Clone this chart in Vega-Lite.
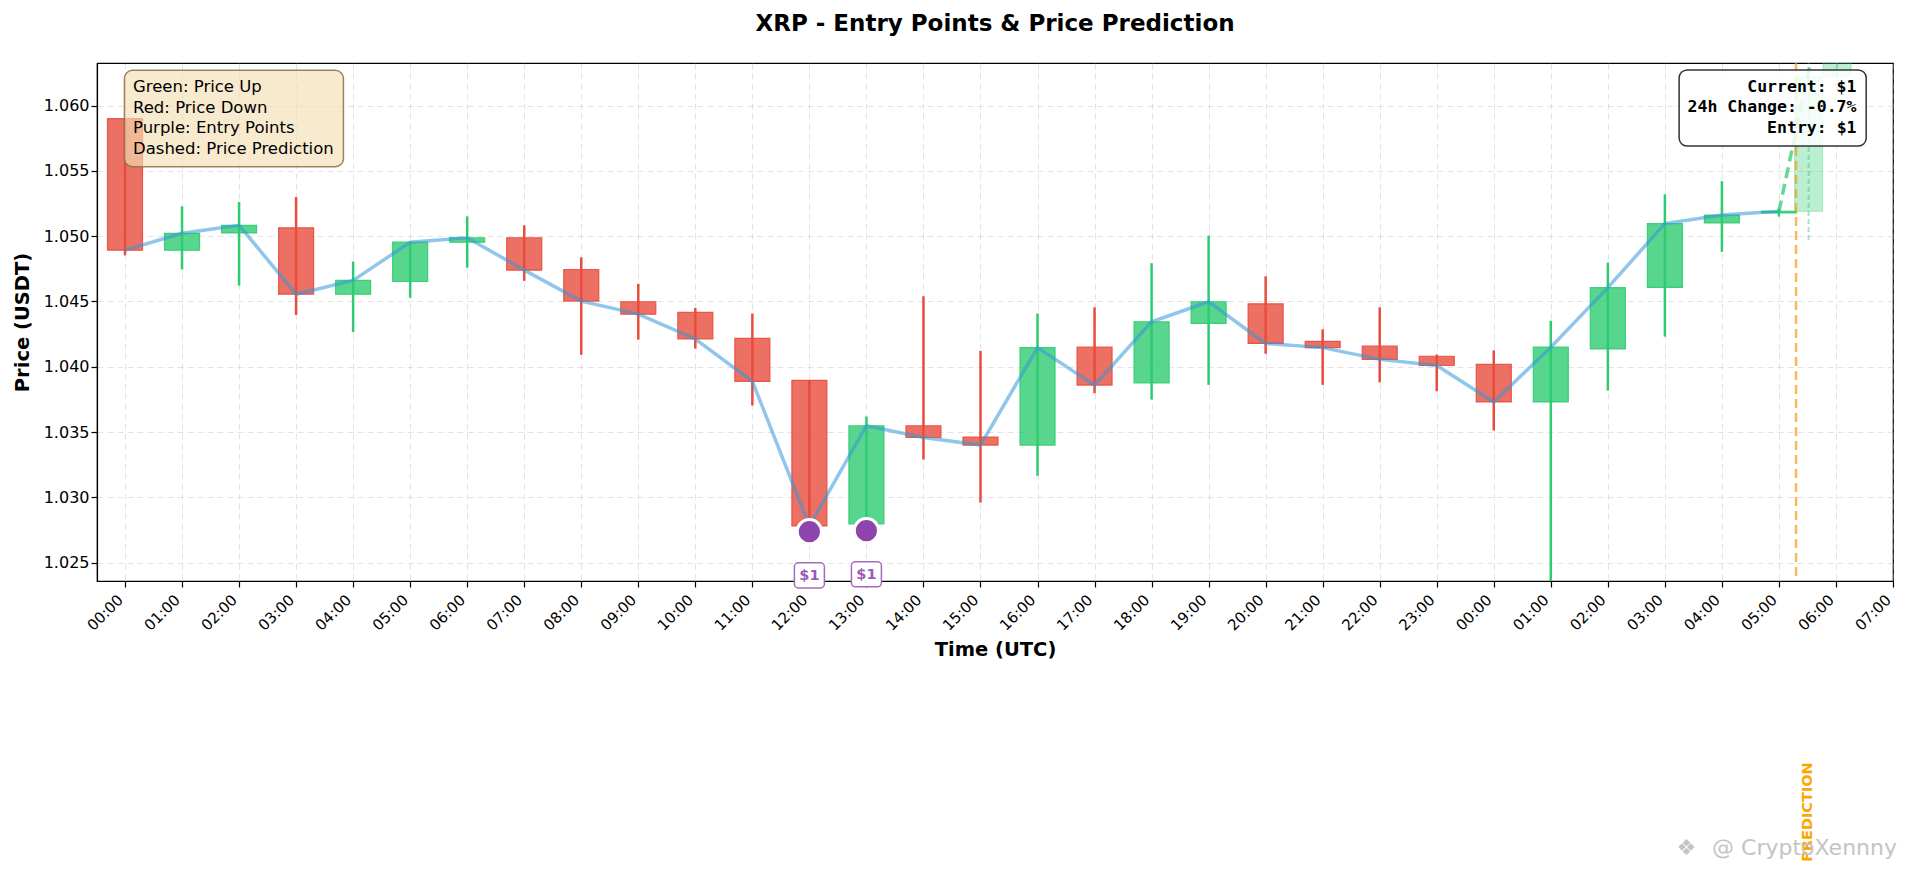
{
  "$schema": "https://vega.github.io/schema/vega-lite/v6.json",
  "width": 1796,
  "height": 518,
  "autosize": {"type": "none"},
  "padding": {"left": 97, "top": 63, "right": 12, "bottom": 292},
  "background": "white",
  "title": {
    "text": "XRP - Entry Points & Price Prediction",
    "fontSize": 23,
    "fontWeight": "bold",
    "color": "black",
    "anchor": "middle",
    "frame": "group",
    "baseline": "bottom",
    "offset": 2.5
  },
  "datasets": {
    "candles": [
      {"h": 0, "open": 1.05900, "high": 1.05900, "low": 1.04853, "close": 1.04893, "dir": "down"},
      {"h": 1, "open": 1.04893, "high": 1.05228, "low": 1.04745, "close": 1.05022, "dir": "up"},
      {"h": 2, "open": 1.05025, "high": 1.05262, "low": 1.04622, "close": 1.05083, "dir": "up"},
      {"h": 3, "open": 1.05064, "high": 1.05299, "low": 1.04397, "close": 1.04556, "dir": "down"},
      {"h": 4, "open": 1.04556, "high": 1.04806, "low": 1.04266, "close": 1.04661, "dir": "up"},
      {"h": 5, "open": 1.04653, "high": 1.04960, "low": 1.04529, "close": 1.04954, "dir": "up"},
      {"h": 6, "open": 1.04954, "high": 1.05151, "low": 1.04759, "close": 1.04988, "dir": "up"},
      {"h": 7, "open": 1.04988, "high": 1.05083, "low": 1.04658, "close": 1.04740, "dir": "down"},
      {"h": 8, "open": 1.04745, "high": 1.04838, "low": 1.04092, "close": 1.04503, "dir": "down"},
      {"h": 9, "open": 1.04498, "high": 1.04635, "low": 1.04208, "close": 1.04403, "dir": "down"},
      {"h": 10, "open": 1.04416, "high": 1.04450, "low": 1.04139, "close": 1.04213, "dir": "down"},
      {"h": 11, "open": 1.04218, "high": 1.04408, "low": 1.03704, "close": 1.03889, "dir": "down"},
      {"h": 12, "open": 1.03897, "high": 1.03897, "low": 1.02760, "close": 1.02782, "dir": "down"},
      {"h": 13, "open": 1.02797, "high": 1.03620, "low": 1.02760, "close": 1.03549, "dir": "up"},
      {"h": 14, "open": 1.03549, "high": 1.04540, "low": 1.03290, "close": 1.03459, "dir": "down"},
      {"h": 15, "open": 1.03463, "high": 1.04122, "low": 1.02961, "close": 1.03401, "dir": "down"},
      {"h": 16, "open": 1.03401, "high": 1.04408, "low": 1.03166, "close": 1.04147, "dir": "up"},
      {"h": 17, "open": 1.04150, "high": 1.04455, "low": 1.03797, "close": 1.03860, "dir": "down"},
      {"h": 18, "open": 1.03876, "high": 1.04793, "low": 1.03749, "close": 1.04345, "dir": "up"},
      {"h": 19, "open": 1.04332, "high": 1.05004, "low": 1.03862, "close": 1.04498, "dir": "up"},
      {"h": 20, "open": 1.04482, "high": 1.04693, "low": 1.04100, "close": 1.04179, "dir": "down"},
      {"h": 21, "open": 1.04195, "high": 1.04287, "low": 1.03862, "close": 1.04147, "dir": "down"},
      {"h": 22, "open": 1.04158, "high": 1.04455, "low": 1.03881, "close": 1.04057, "dir": "down"},
      {"h": 23, "open": 1.04081, "high": 1.04094, "low": 1.03813, "close": 1.04010, "dir": "down"},
      {"h": 24, "open": 1.04018, "high": 1.04126, "low": 1.03512, "close": 1.03731, "dir": "down"},
      {"h": 25, "open": 1.03731, "high": 1.04353, "low": 1.02200, "close": 1.04150, "dir": "up"},
      {"h": 26, "open": 1.04137, "high": 1.04798, "low": 1.03818, "close": 1.04606, "dir": "up"},
      {"h": 27, "open": 1.04608, "high": 1.05320, "low": 1.04231, "close": 1.05096, "dir": "up"},
      {"h": 28, "open": 1.05101, "high": 1.05421, "low": 1.04880, "close": 1.05162, "dir": "up"},
      {"h": 29, "open": 1.05178, "high": 1.05210, "low": 1.05150, "close": 1.05190, "dir": "up"}
    ],
    "prediction": [
      {"h": 29.52, "open": 1.05190, "close": 1.06220, "low": 1.04970, "high": 1.06400},
      {"h": 30.02, "open": 1.06220, "close": 1.07200, "low": 1.06100, "high": 1.07500}
    ],
    "predline": [
      {"h": 29, "price": 1.05190},
      {"h": 29.5, "price": 1.06220},
      {"h": 30, "price": 1.07200}
    ],
    "entries": [
      {"h": 12, "price": 1.02738, "label": "$1", "boxTop": 1.02500, "boxBottom": 1.02308, "labelY": 1.02402},
      {"h": 13, "price": 1.02746, "label": "$1", "boxTop": 1.02508, "boxBottom": 1.02316, "labelY": 1.02410}
    ],
    "notes": [
      {"name": "legend", "h": -0.01, "h2": 3.83, "top": 1.06269, "bottom": 1.05532, "tx": 0.14, "ty": 1.06142},
      {"name": "info", "h": 27.25, "h2": 30.53, "top": 1.06272, "bottom": 1.05690, "tx": 30.36, "ty": 1.06142}
    ]
  },
  "encoding": {
    "x": {
      "field": "h",
      "type": "quantitative",
      "title": "Time (UTC)",
      "scale": {"domain": [-0.491, 31.0], "nice": false, "zero": false, "padding": 0},
      "axis": {
        "values": [0, 1, 2, 3, 4, 5, 6, 7, 8, 9, 10, 11, 12, 13, 14, 15, 16, 17, 18, 19, 20, 21, 22, 23, 24, 25, 26, 27, 28, 29, 30, 31],
        "labelExpr": "(datum.value % 24 < 10 ? '0' : '') + (datum.value % 24) + ':00'",
        "labelAngle": -45,
        "labelAlign": "right",
        "labelBaseline": "middle",
        "labelFontSize": 15,
        "labelPadding": 10,
        "labelOffset": -5,
        "labelOverlap": false,
        "labelBound": false,
        "labelFlush": false,
        "titlePadding": 7
      }
    }
  },
  "layer": [
    {
      "data": {"name": "candles"},
      "mark": {"type": "rule", "strokeWidth": 2.5, "clip": true},
      "encoding": {
        "y": {
          "field": "low",
          "type": "quantitative",
          "title": "Price (USDT)",
          "scale": {"domain": [1.023608, 1.063253], "nice": false, "zero": false, "padding": 0},
          "axis": {
            "values": [1.025, 1.03, 1.035, 1.04, 1.045, 1.05, 1.055, 1.06],
            "format": ".3f",
            "labelFontSize": 16,
            "titlePadding": 11
          }
        },
        "y2": {"field": "high"},
        "color": {
          "field": "dir",
          "type": "nominal",
          "scale": {"domain": ["down", "up"], "range": ["#e74c3c", "#2ecc71"]},
          "legend": null
        }
      }
    },
    {
      "data": {"name": "candles"},
      "mark": {"type": "bar", "size": 35, "fillOpacity": 0.8, "strokeOpacity": 0.9, "strokeWidth": 1.2},
      "encoding": {
        "y": {"field": "open", "type": "quantitative", "title": "Price (USDT)"},
        "y2": {"field": "close"},
        "fill": {
          "field": "dir",
          "type": "nominal",
          "scale": {"domain": ["down", "up"], "range": ["#e74c3c", "#2ecc71"]},
          "legend": null
        },
        "stroke": {
          "field": "dir",
          "type": "nominal",
          "scale": {"domain": ["down", "up"], "range": ["#e74c3c", "#2ecc71"]},
          "legend": null
        }
      }
    },
    {
      "data": {"name": "candles"},
      "mark": {"type": "line", "color": "#3498db", "opacity": 0.55, "strokeWidth": 3.5},
      "encoding": {
        "y": {"field": "close", "type": "quantitative", "title": "Price (USDT)"}
      }
    },
    {
      "data": {"name": "prediction"},
      "mark": {"type": "bar", "size": 28, "color": "#2ecc71", "fillOpacity": 0.32, "strokeOpacity": 0.35, "strokeWidth": 1, "stroke": "#2ecc71", "clip": true},
      "encoding": {
        "y": {"field": "open", "type": "quantitative", "title": "Price (USDT)"},
        "y2": {"field": "close"}
      }
    },
    {
      "data": {"name": "prediction"},
      "mark": {"type": "rule", "color": "#2ecc71", "opacity": 0.45, "strokeWidth": 2, "strokeDash": [5, 3], "clip": true},
      "encoding": {
        "y": {"field": "low", "type": "quantitative", "title": "Price (USDT)"},
        "y2": {"field": "high"}
      }
    },
    {
      "data": {"name": "predline"},
      "mark": {"type": "line", "color": "#2ecc71", "opacity": 0.75, "strokeWidth": 3.5, "strokeDash": [11, 6], "clip": true},
      "encoding": {
        "y": {"field": "price", "type": "quantitative", "title": "Price (USDT)"}
      }
    },
    {
      "data": {"values": [{"h": 29.3}]},
      "mark": {"type": "rule", "color": "#f39c12", "opacity": 0.7, "strokeWidth": 2.5, "strokeDash": [9, 5]},
      "encoding": {}
    },
    {
      "data": {"values": [{"h": 29.58, "price": 1.005928, "label": "PREDICTION"}]},
      "mark": {"type": "text", "angle": 270, "align": "center", "baseline": "alphabetic", "fontSize": 14.5, "fontWeight": "bold", "color": "#ffa500"},
      "encoding": {
        "y": {"field": "price", "type": "quantitative", "title": "Price (USDT)"},
        "text": {"field": "label"}
      }
    },
    {
      "data": {"name": "entries"},
      "mark": {"type": "point", "filled": true, "size": 585, "color": "#8e44ad", "opacity": 1, "stroke": "white", "strokeWidth": 3},
      "encoding": {
        "y": {"field": "price", "type": "quantitative", "title": "Price (USDT)"}
      }
    },
    {
      "data": {"name": "entries"},
      "mark": {"type": "bar", "size": 30, "fill": "white", "stroke": "#a569bd", "strokeWidth": 1.5, "cornerRadius": 4},
      "encoding": {
        "y": {"field": "boxTop", "type": "quantitative", "title": "Price (USDT)"},
        "y2": {"field": "boxBottom"}
      }
    },
    {
      "data": {"name": "entries"},
      "mark": {"type": "text", "fontSize": 14.5, "fontWeight": "bold", "color": "#9b59b6", "baseline": "middle", "align": "center"},
      "encoding": {
        "y": {"field": "labelY", "type": "quantitative", "title": "Price (USDT)"},
        "text": {"field": "label"}
      }
    },
    {
      "data": {"name": "notes"},
      "transform": [{"filter": "datum.name == 'legend'"}],
      "mark": {"type": "rect", "fill": "#f5deb3", "fillOpacity": 0.65, "stroke": "#8b6f47", "strokeOpacity": 0.85, "strokeWidth": 1.5, "cornerRadius": 8},
      "encoding": {
        "x2": {"field": "h2"},
        "y": {"field": "top", "type": "quantitative", "title": "Price (USDT)"},
        "y2": {"field": "bottom"}
      }
    },
    {
      "data": {"name": "notes"},
      "transform": [{"filter": "datum.name == 'legend'"}],
      "mark": {"type": "text", "align": "left", "baseline": "middle", "fontSize": 16.5, "lineHeight": 20.6, "color": "black"},
      "encoding": {
        "x": {"field": "tx", "type": "quantitative"},
        "y": {"field": "ty", "type": "quantitative", "title": "Price (USDT)"},
        "text": {"value": ["Green: Price Up", "Red: Price Down", "Purple: Entry Points", "Dashed: Price Prediction"]}
      }
    },
    {
      "data": {"name": "notes"},
      "transform": [{"filter": "datum.name == 'info'"}],
      "mark": {"type": "rect", "fill": "white", "fillOpacity": 0.85, "stroke": "#333333", "strokeWidth": 1.5, "cornerRadius": 8},
      "encoding": {
        "x2": {"field": "h2"},
        "y": {"field": "top", "type": "quantitative", "title": "Price (USDT)"},
        "y2": {"field": "bottom"}
      }
    },
    {
      "data": {"name": "notes"},
      "transform": [{"filter": "datum.name == 'info'"}],
      "mark": {"type": "text", "align": "right", "baseline": "middle", "font": "DejaVu Sans Mono", "fontWeight": "bold", "fontSize": 16.5, "lineHeight": 20.5, "color": "black"},
      "encoding": {
        "x": {"field": "tx", "type": "quantitative"},
        "y": {"field": "ty", "type": "quantitative", "title": "Price (USDT)"},
        "text": {"value": ["Current: $1", "24h Change: -0.7%", "Entry: $1"]}
      }
    },
    {
      "data": {"values": [{"h": 31.07, "price": 1.003173, "label": "@ CryptoXennny"}, {"h": 27.55, "price": 1.003173, "label": "❖"}]},
      "mark": {"type": "text", "align": "right", "baseline": "middle", "fontSize": 22, "color": "#c4c4c4"},
      "encoding": {
        "y": {"field": "price", "type": "quantitative", "title": "Price (USDT)"},
        "text": {"field": "label"}
      }
    }
  ],
  "config": {
    "font": "DejaVu Sans",
    "view": {"stroke": "black", "strokeWidth": 1.2},
    "axis": {
      "grid": true,
      "gridColor": "#b0b0b0",
      "gridOpacity": 0.35,
      "gridDash": [6, 4],
      "gridWidth": 1,
      "domainColor": "black",
      "domainWidth": 1.2,
      "tickColor": "black",
      "tickSize": 6,
      "tickWidth": 1.2,
      "labelColor": "black",
      "labelFont": "DejaVu Sans",
      "titleFont": "DejaVu Sans",
      "titleFontSize": 19.5,
      "titleFontWeight": "bold",
      "titleColor": "black"
    }
  }
}
